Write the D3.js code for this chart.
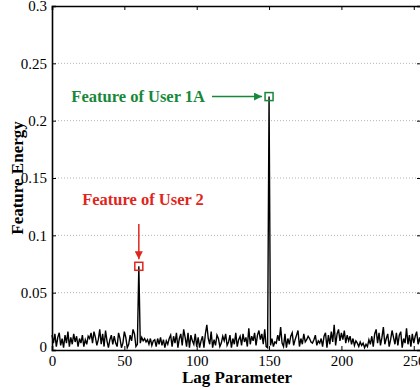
<!DOCTYPE html>
<html>
<head>
<meta charset="utf-8">
<script src="https://cdn.jsdelivr.net/npm/d3@7"></script>
<style>
  body { margin: 0; background: #fff; }
  svg { display: block; font-family: "Liberation Serif", "DejaVu Serif", serif; }
</style>
</head>
<body>
<div id="chart"></div>
<script>
// lag values 0..255, feature energy
let energy = [
  0.013, 0.006, 0.014, 0.003, 0.011, 0.015, 0.004, 0.010, 0.002, 0.013,
  0.006, 0.016, 0.003, 0.011, 0.005, 0.014, 0.007, 0.012, 0.003, 0.010,
  0.006, 0.013, 0.003, 0.009, 0.005, 0.012, 0.010, 0.015, 0.006, 0.016,
  0.011, 0.004, 0.009, 0.018, 0.005, 0.014, 0.003, 0.017, 0.008, 0.002,
  0.009, 0.013, 0.005, 0.012, 0.006, 0.003, 0.015, 0.010, 0.002, 0.006,
  0.016, 0.011, 0.002, 0.005, 0.013, 0.008, 0.018, 0.014, 0.003, 0.005,
  0.073, 0.006, 0.011, 0.008, 0.010, 0.007, 0.009, 0.005, 0.010, 0.004,
  0.008, 0.009, 0.003, 0.010, 0.005, 0.011, 0.004, 0.009, 0.002, 0.008,
  0.005, 0.010, 0.013, 0.003, 0.012, 0.006, 0.015, 0.002, 0.010, 0.014,
  0.004, 0.018, 0.011, 0.003, 0.015, 0.002, 0.013, 0.008, 0.005, 0.014,
  0.003, 0.011, 0.002, 0.008, 0.012, 0.002, 0.014, 0.022, 0.010, 0.005,
  0.016, 0.002, 0.009, 0.004, 0.013, 0.010, 0.003, 0.006, 0.012, 0.008,
  0.014, 0.004, 0.007, 0.013, 0.002, 0.010, 0.005, 0.015, 0.003, 0.009,
  0.012, 0.004, 0.014, 0.007, 0.011, 0.003, 0.019, 0.005, 0.012, 0.008,
  0.015, 0.004, 0.013, 0.017, 0.009, 0.014, 0.005, 0.018, 0.003, 0.002,
  0.221, 0.004, 0.010, 0.003, 0.007, 0.006, 0.013, 0.008, 0.020, 0.006,
  0.003, 0.014, 0.002, 0.010, 0.005, 0.012, 0.015, 0.004, 0.009, 0.013,
  0.017, 0.003, 0.010, 0.005, 0.014, 0.007, 0.009, 0.012, 0.010, 0.007,
  0.006, 0.009, 0.013, 0.004, 0.008, 0.006, 0.010, 0.003, 0.012, 0.015,
  0.002, 0.013, 0.005, 0.016, 0.007, 0.022, 0.004, 0.014, 0.018, 0.008,
  0.015, 0.009, 0.017, 0.006, 0.013, 0.008, 0.012, 0.005, 0.010, 0.004,
  0.008, 0.006, 0.003, 0.007, 0.004, 0.006, 0.002, 0.005, 0.003, 0.009,
  0.005, 0.012, 0.003, 0.014, 0.018, 0.006, 0.015, 0.004, 0.011, 0.020,
  0.005, 0.010, 0.014, 0.003, 0.009, 0.017, 0.011, 0.005, 0.015, 0.004,
  0.013, 0.016, 0.002, 0.010, 0.006, 0.019, 0.005, 0.013, 0.003, 0.014,
  0.006, 0.012, 0.016, 0.005, 0.011, 0.004
];
let xTicks = [0, 50, 100, 150, 200, 250];
let yTicks = [0, 0.05, 0.1, 0.15, 0.2, 0.25, 0.3];
let features = [
  {lag: 60, label: "Feature of User 2", color: "#e0261c"},
  {lag: 150, label: "Feature of User 1A", color: "#16883a"}
];

let width = 420, height = 390;
let margin = {top: 6, right: -1, bottom: 40, left: 52};

let svg = d3.select("#chart").append("svg")
  .attr("width", width)
  .attr("height", height);

let x = d3.scaleLinear().domain([0, 255]).range([margin.left, width - margin.right]);
let y = d3.scaleLinear().domain([0, 0.3]).range([height - margin.bottom, margin.top]);

// dotted grid
svg.append("g")
  .selectAll("line")
  .data(yTicks.filter(d => d > 0 && d < 0.3))
  .enter().append("line")
  .attr("x1", x(0)).attr("x2", x(255))
  .attr("y1", d => y(d)).attr("y2", d => y(d))
  .attr("stroke", "#b5b5b5")
  .attr("stroke-width", 1)
  .attr("stroke-dasharray", "1,2");

// the series
let line = d3.line()
  .x((d, i) => x(i))
  .y(d => y(d));

svg.append("path")
  .datum(energy)
  .attr("d", line)
  .attr("fill", "none")
  .attr("stroke", "#000")
  .attr("stroke-width", 1.4);

// axes
let xAxis = d3.axisBottom(x).tickValues(xTicks).tickSize(-4).tickPadding(5).tickFormat(d3.format("d"));
let xAxisTop = d3.axisTop(x).tickValues(xTicks).tickSize(-4).tickFormat("");
let yAxis = d3.axisLeft(y).tickValues(yTicks).tickSize(-4).tickPadding(5).tickFormat(d => d === 0 ? "0" : String(d));
let yAxisRight = d3.axisRight(y).tickValues(yTicks).tickSize(-4).tickFormat("");

function styleAxis(g) {
  g.select(".domain").attr("stroke", "#000").attr("stroke-width", 1.6);
  g.selectAll(".tick line").attr("stroke", "#000").attr("stroke-width", 1);
  g.selectAll("text").attr("font-family", "Liberation Serif").attr("font-size", 15).attr("fill", "#000");
}

svg.append("g").attr("transform", "translate(0," + y(0) + ")").call(xAxis).call(styleAxis);
svg.append("g").attr("transform", "translate(0," + y(0.3) + ")").call(xAxisTop).call(styleAxis);
svg.append("g").attr("transform", "translate(" + x(0) + ",0)").call(yAxis).call(styleAxis);
svg.append("g").attr("transform", "translate(" + x(255) + ",0)").call(yAxisRight).call(styleAxis);

// y "0" label sits a little higher and left, as in the picture
svg.selectAll("text").filter(function() { return this.textContent === "0"; })
  .each(function() {
    let t = d3.select(this);
    if (t.attr("dy") === "0.32em" && t.attr("x") < 0) t.attr("dy", "0.1em");
  });

// axis labels
svg.append("text")
  .attr("x", 237).attr("y", 383)
  .attr("text-anchor", "middle")
  .attr("font-weight", "bold").attr("font-size", 17)
  .text("Lag Parameter");

svg.append("text")
  .attr("transform", "translate(23," + 178 + ") rotate(-90)")
  .attr("text-anchor", "middle")
  .attr("font-weight", "bold").attr("font-size", 17)
  .text("Feature Energy");

// arrow heads
let defs = svg.append("defs");
features.forEach((f, i) => {
  defs.append("marker")
    .attr("id", "arrow" + i)
    .attr("viewBox", "0 0 10 10")
    .attr("refX", 10).attr("refY", 5)
    .attr("markerWidth", 8).attr("markerHeight", 8)
    .attr("markerUnits", "userSpaceOnUse")
    .attr("orient", "auto")
    .append("path")
    .attr("d", "M0,0 L10,5 L0,10 Z")
    .attr("fill", f.color);
});

// highlighted peaks
features.forEach(f => {
  svg.append("rect")
    .attr("x", x(f.lag) - 4).attr("y", y(energy[f.lag]) - 4)
    .attr("width", 8).attr("height", 8)
    .attr("fill", "none")
    .attr("stroke", f.color)
    .attr("stroke-width", 1.5);
});

// user 2: label above, arrow down
let f2 = features[0];
svg.append("text")
  .attr("x", 143).attr("y", 205)
  .attr("text-anchor", "middle")
  .attr("font-weight", "bold").attr("font-size", 16.5)
  .attr("fill", f2.color)
  .text(f2.label);
svg.append("line")
  .attr("x1", x(f2.lag)).attr("x2", x(f2.lag))
  .attr("y1", 224).attr("y2", y(energy[f2.lag]) - 7)
  .attr("stroke", f2.color).attr("stroke-width", 1.5)
  .attr("marker-end", "url(#arrow0)");

// user 1A: label to the left, arrow right
let f1 = features[1];
svg.append("text")
  .attr("x", 205).attr("y", y(energy[f1.lag]) + 5)
  .attr("text-anchor", "end")
  .attr("font-weight", "bold").attr("font-size", 16.5)
  .attr("fill", f1.color)
  .text(f1.label);
svg.append("line")
  .attr("x1", 212).attr("x2", x(f1.lag) - 7)
  .attr("y1", y(energy[f1.lag])).attr("y2", y(energy[f1.lag]))
  .attr("stroke", f1.color).attr("stroke-width", 1.5)
  .attr("marker-end", "url(#arrow1)");
</script>
</body>
</html>
